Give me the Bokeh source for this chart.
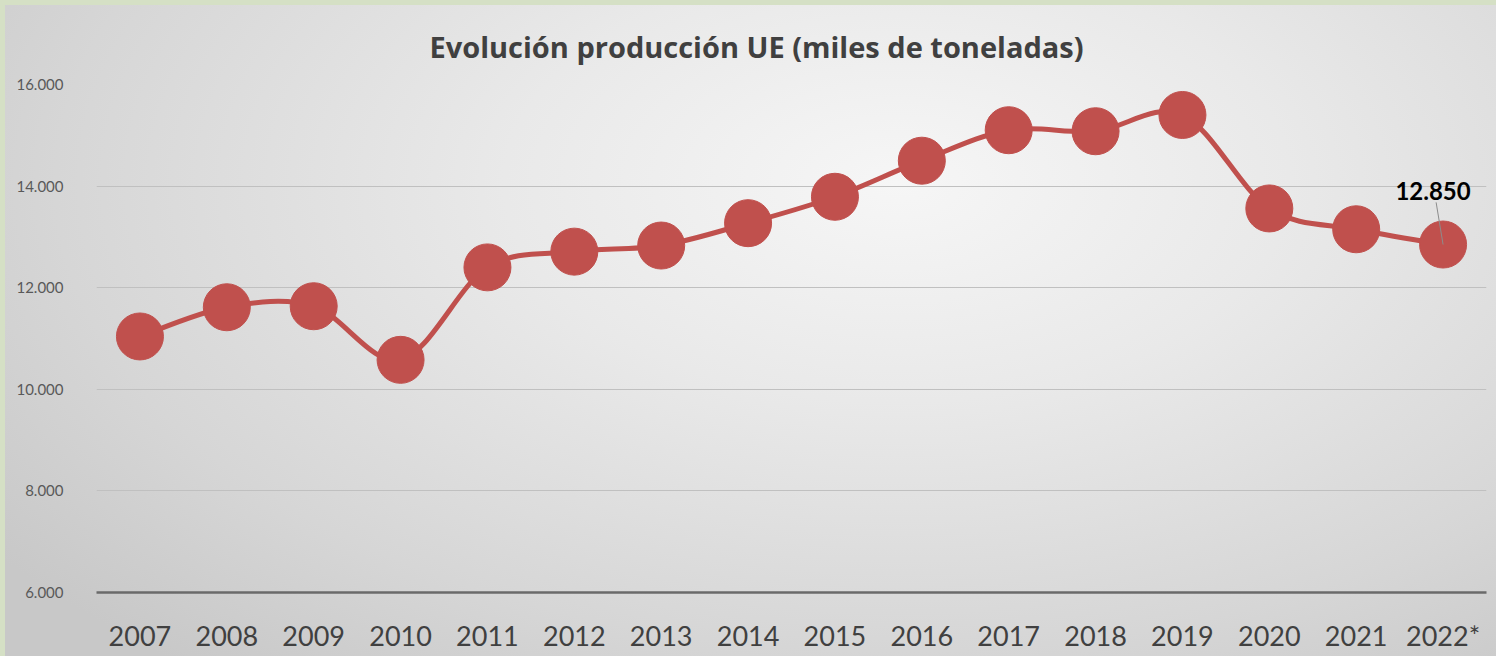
import numpy as np
from bokeh.plotting import figure
from bokeh.models import Range1d, FixedTicker, Label, Title, ColumnDataSource
from bokeh.embed import file_html
from bokeh.resources import INLINE

# ---- data ----
years = ["2007", "2008", "2009", "2010", "2011", "2012", "2013", "2014",
         "2015", "2016", "2017", "2018", "2019", "2020", "2021", "2022*"]
production = [11040, 11615, 11635, 10580, 12400, 12710, 12830, 13270,
              13790, 14500, 15100, 15080, 15400, 13560, 13150, 12850]
y_ticks = [6000, 8000, 10000, 12000, 14000, 16000]
y_tick_labels = ["6.000", "8.000", "10.000", "12.000", "14.000", "16.000"]
title_text = "Evolución producción UE (miles de toneladas)"
highlight_label = "12.850"

RED = "#C0504D"
FONT = "Lato"

n = len(years)
xs = np.arange(1, n + 1, dtype=float)
ys = np.array(production, dtype=float)

# smoothed line (cubic Bezier segments through the data points)
i0 = np.arange(n - 1)
prev_i = np.maximum(i0 - 1, 0)
next2 = np.minimum(i0 + 2, n - 1)
seg = ColumnDataSource(dict(
    x0=xs[i0], y0=ys[i0], x1=xs[i0 + 1], y1=ys[i0 + 1],
    cx0=xs[i0] + (xs[i0 + 1] - xs[prev_i]) / 6.0,
    cy0=ys[i0] + (ys[i0 + 1] - ys[prev_i]) / 6.0,
    cx1=xs[i0 + 1] - (xs[next2] - xs[i0]) / 6.0,
    cy1=ys[i0 + 1] - (ys[next2] - ys[i0]) / 6.0,
))
pts = ColumnDataSource(dict(x=xs, y=ys))

p = figure(width=1496, height=656, output_backend="svg", toolbar_location=None,
           x_range=Range1d(0.5, n + 0.5), y_range=Range1d(6000, 16000),
           min_border_left=96, min_border_right=10, min_border_top=84, min_border_bottom=64)

p.title = Title(text=title_text, align="left", offset=333, standoff=37,
                text_font="Open Sans", text_font_size="29px", text_font_style="bold",
                text_color="#404040")

p.background_fill_alpha = 0
p.border_fill_alpha = 0
p.outline_line_color = None
p.styles = {
    "background": "radial-gradient(ellipse 75% 95% at 60% 28%, #f6f6f6 0%, #e9e9e9 35%, #d6d6d6 75%, #c8c8c8 100%)",
    "box-shadow": "inset 5px 5px 0 #d5e0c5",
}

p.bezier(x0="x0", y0="y0", x1="x1", y1="y1", cx0="cx0", cy0="cy0", cx1="cx1", cy1="cy1",
         source=seg, line_color=RED, line_width=5)
p.scatter(x="x", y="y", source=pts, size=47, fill_color=RED, line_color=RED)

# data label for the last point with leader line
last_x, last_y = float(xs[-1]), float(ys[-1])
p.segment(x0=[last_x - 0.08], y0=[last_y + 830], x1=[last_x], y1=[last_y],
          line_color="#8c8c8c", line_width=1)
p.add_layout(Label(x=last_x, y=last_y, text=highlight_label, x_offset=-10, y_offset=54,
                   text_align="center", text_baseline="alphabetic",
                   text_font=FONT, text_font_size="24px", text_font_style="bold",
                   text_color="#000000"))

# axes
p.xaxis.ticker = FixedTicker(ticks=list(xs))
p.xaxis.major_label_overrides = {float(x): lab for x, lab in zip(xs, years)}
p.xaxis.axis_line_color = "#6a6a6a"
p.xaxis.axis_line_width = 2.5
p.xaxis.major_tick_line_color = None
p.xaxis.minor_tick_line_color = None
p.xaxis.major_label_text_font = FONT
p.xaxis.major_label_text_font_size = "27px"
p.xaxis.major_label_text_color = "#404040"
p.xaxis.major_label_standoff = 20

p.yaxis.ticker = FixedTicker(ticks=y_ticks)
p.yaxis.major_label_overrides = {t: lab for t, lab in zip(y_ticks, y_tick_labels)}
p.yaxis.axis_line_color = None
p.yaxis.major_tick_line_color = None
p.yaxis.minor_tick_line_color = None
p.yaxis.major_label_text_font = FONT
p.yaxis.major_label_text_font_size = "15px"
p.yaxis.major_label_text_color = "#595959"
p.yaxis.major_label_standoff = 27

p.xgrid.visible = False
p.ygrid.grid_line_color = "#c0c0c0"
p.ygrid.grid_line_width = 1

open("out.html", "w").write(file_html(p, INLINE))
